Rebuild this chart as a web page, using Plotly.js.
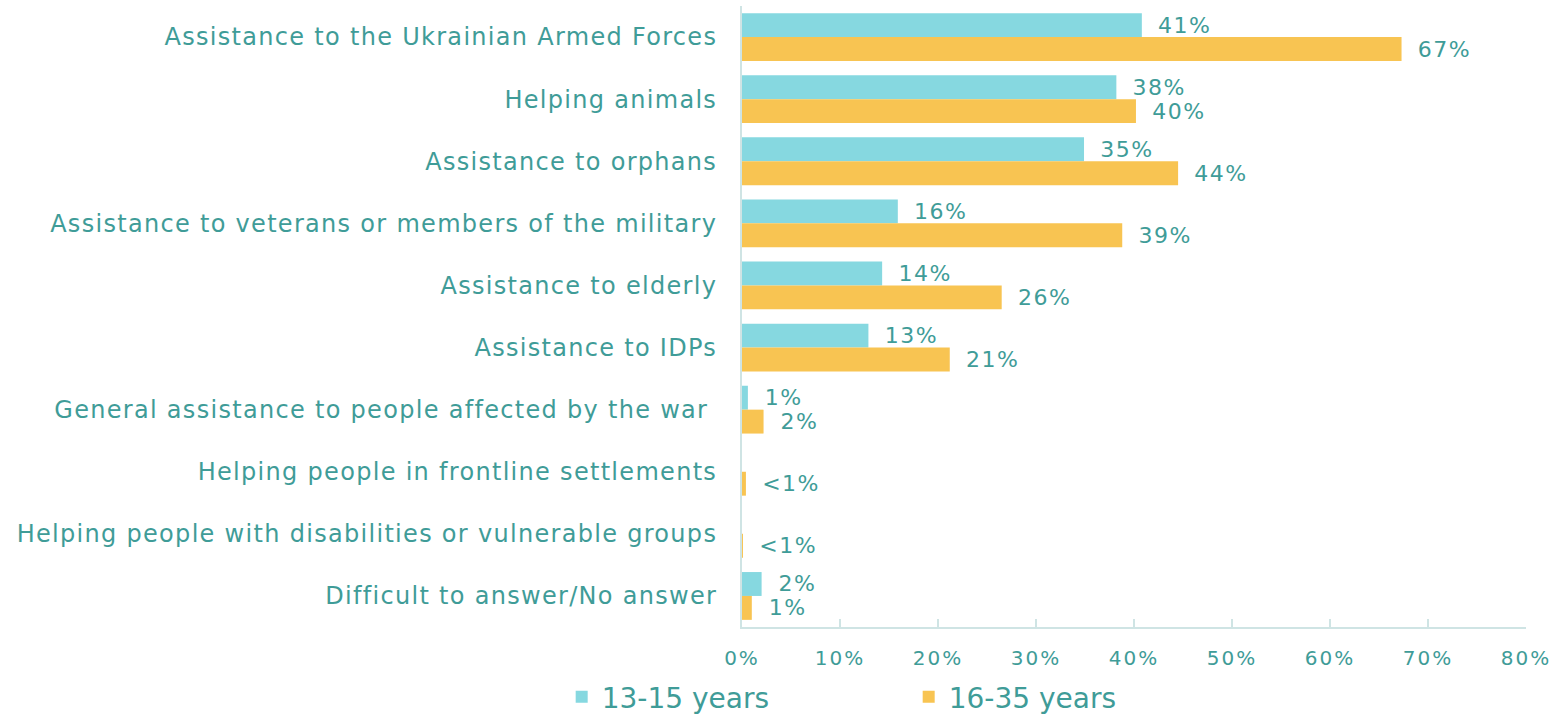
<!DOCTYPE html>
<html>
<head>
<meta charset="utf-8">
<script src="https://cdn.plot.ly/plotly-3.0.1.min.js"></script>
<style>
html,body{margin:0;padding:0;background:#fff;}
#chart{width:1563px;height:714px;}
#chart .ytick text{letter-spacing:1.3px;}
#chart .xtick text{letter-spacing:2px;}
#chart text.bartext{letter-spacing:1.5px;}
</style>
</head>
<body>
<div id="chart"></div>
<script>
const categories = [
  "Assistance to the Ukrainian Armed Forces",
  "Helping animals",
  "Assistance to orphans",
  "Assistance to veterans or members of the military",
  "Assistance to elderly",
  "Assistance to IDPs",
  "General assistance to people affected by the war ",
  "Helping people in frontline settlements",
  "Helping people with disabilities or vulnerable groups",
  "Difficult to answer/No answer"
];
const seriesNames = ["13-15 years", "16-35 years"];
const values1315 = [40.8, 38.2, 34.9, 15.9, 14.3, 12.9, 0.6, null, null, 2.0];
const labels1315 = ["41%", "38%", "35%", "16%", "14%", "13%", "1%", "", "", "2%"];
const values1635 = [67.3, 40.2, 44.5, 38.8, 26.5, 21.2, 2.2, 0.4, 0.1, 1.0];
const labels1635 = ["67%", "40%", "44%", "39%", "26%", "21%", "2%", "<1%", "<1%", "1%"];
const xTickVals = [0, 10, 20, 30, 40, 50, 60, 70, 80];
const xTickText = ["0%", "10%", "20%", "30%", "40%", "50%", "60%", "70%", "80%"];

const teal = "#3f9c98";
const font = "DejaVu Sans, Verdana, sans-serif";
const pad = "\u00a0\u00a0";

function mk(name, vals, labs, color) {
  return {
    type: "bar", orientation: "h", name: name,
    y: categories, x: vals,
    text: labs.map(t => t ? pad + t : ""),
    textposition: "outside", constraintext: "none", cliponaxis: false,
    textfont: {family: font, size: 22, color: teal},
    marker: {color: color},
    hoverinfo: "skip"
  };
}

const data = [
  mk(seriesNames[0], values1315, labels1315, "#86d8e0"),
  mk(seriesNames[1], values1635, labels1635, "#f8c452")
];

const layout = {
  width: 1563, height: 714,
  margin: {l: 742, r: 37, t: 6, b: 87, autoexpand: false},
  paper_bgcolor: "#fff", plot_bgcolor: "#fff",
  barmode: "group", bargap: 0.23, bargroupgap: 0,
  font: {family: font, color: teal},
  showlegend: true,
  legend: {
    orientation: "h", x: -0.23, xanchor: "left", y: -0.113, yanchor: "middle",
    font: {family: font, size: 28, color: teal},
    entrywidth: 302, entrywidthmode: "pixels",
    itemclick: false, itemdoubleclick: false
  },
  xaxis: {
    range: [0, 80], tickvals: xTickVals, ticktext: xTickText,
    showgrid: false, zeroline: false,
    showline: true, linecolor: "#cfe4e4", linewidth: 2,
    ticks: "inside", ticklen: 8, tickcolor: "#cfe4e4", tickwidth: 2,
    tickfont: {family: font, size: 20, color: teal},
    ticklabelstandoff: 12, fixedrange: true
  },
  yaxis: {
    autorange: "reversed", type: "category",
    showgrid: false, zeroline: false,
    showline: true, linecolor: "#cfe4e4", linewidth: 2,
    ticks: "", tickfont: {family: font, size: 24, color: teal},
    ticklabelstandoff: 18, fixedrange: true
  }
};

Plotly.newPlot("chart", data, layout, {displayModeBar: false, staticPlot: true});
</script>
</body>
</html>
